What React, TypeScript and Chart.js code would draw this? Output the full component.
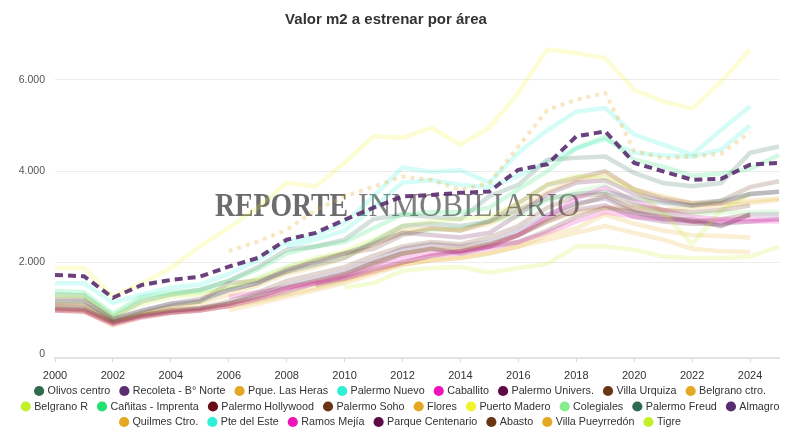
import React, { useEffect, useRef } from "react";
import { Chart, registerables } from "chart.js";

Chart.register(...registerables);

const years = ["2000","2001","2002","2003","2004","2005","2006","2007","2008","2009","2010","2011","2012","2013","2014","2015","2016","2017","2018","2019","2020","2021","2022","2023","2024","2025"];
const yTicks = [0, 2000, 4000, 6000];
const chartTitle = "Valor m2 a estrenar por área";
const watermarkBold = "REPORTE";
const watermarkRegular = "INMOBILIARIO";

const olivosCentro = [1150,1150,760,950,1100,1150,1400,1550,1800,1950,2100,2450,2800,2850,2800,2900,3150,3400,3500,3550,3400,3300,3250,3350,3500,3550];
const recoletaNorte = [1730,1700,1230,1510,1620,1690,1910,2100,2500,2650,2935,3200,3445,3480,3525,3555,4030,4150,4760,4870,4180,3995,3810,3830,4140,4180];
const pqueLasHeras = [null,null,null,null,null,null,2250,2460,2715,3150,3445,3660,3880,3810,3590,3740,4540,5340,5560,5710,4450,4280,4320,4380,4850,null];
const palermoNuevo = [1550,1550,1120,1300,1450,1520,1750,2050,2450,2600,2870,3450,4080,3980,4020,3750,4400,4900,5300,5380,4800,4580,4360,4900,5420,null];
const caballito = [950,930,650,800,900,950,1050,1200,1400,1550,1700,1900,2100,2200,2250,2350,2600,3000,3400,3650,3350,3150,3000,2950,2950,2950];
const palermoUnivers = [1200,1180,760,950,1100,1200,1400,1550,1850,2000,2200,2400,2650,2600,2550,2650,3050,3500,3750,3800,3500,3350,3250,3300,3500,3550];
const villaUrquiza = [1000,980,700,850,950,1000,1150,1350,1600,1750,1900,2150,2350,2450,2400,2550,2800,3200,3450,3500,3250,3150,3100,3150,3250,null];
const belgranoCtro = [1100,1080,720,900,1000,1100,1300,1500,1750,1900,2100,2400,2700,2750,2700,2850,3150,3550,3800,3950,3600,3450,3300,3300,3350,3400];
const belgranoR = [1250,1230,800,1100,1250,1300,1450,1650,1900,2100,2250,2500,2800,2900,2950,3000,3300,3700,3900,3850,3600,3100,2400,3150,3500,null];
const canitasImprenta = [1380,1350,880,1250,1350,1400,1600,1850,2200,2350,2450,2750,3050,3100,3100,3200,3600,4000,4500,4750,4250,4100,3900,3950,4050,4350];
const palermoHollywood = [null,null,null,null,null,null,null,null,null,1500,1650,1850,2000,2150,2250,2350,2450,2700,3000,3200,3100,3000,2900,2950,3050,null];
const palermoSoho = [1100,1080,720,900,1050,1150,1550,1600,1800,2050,2200,2300,2600,2750,2700,2900,3300,3700,3850,4000,3600,3400,3300,3350,3650,3780];
const flores = [null,null,null,null,null,null,960,1100,1250,1400,1550,1750,1950,2050,2100,2200,2350,2600,2750,3050,2850,2700,2600,2580,2550,null];
const puertoMadero = [1880,1880,1255,1555,1880,2350,2760,3200,3745,3665,4180,4760,4730,4950,4580,4950,5715,6660,6585,6475,5780,5525,5365,5960,6660,null];
const colegiales = [1300,1280,850,1200,1300,1350,1450,1650,1900,2050,2200,2450,2650,2700,2750,2900,3000,3350,3550,3700,3300,3100,3050,3100,3100,3120];
const palermoFreud = [1300,1280,800,1150,1300,1400,1600,1900,2280,2350,2500,2950,3050,3000,2950,3450,3700,4250,4290,4320,3960,3740,3670,3740,4400,4540];
const almagro = [1050,1030,700,850,950,1000,1100,1300,1500,1650,1800,2050,2300,2400,2350,2450,2700,3050,3300,3400,3100,2950,2950,2800,3050,3050];
const quilmesCtro = [950,930,620,800,900,950,1050,1150,1300,1450,1600,1800,1950,2050,2100,2200,2350,2500,2650,2800,2650,2500,2300,2250,2230,null];
const pteDelEste = [null,null,null,null,null,null,null,null,2350,2500,2700,3200,3750,3800,3700,3650,3900,4200,4500,4700,4400,4350,4320,4470,5000,null];
const ramosMejia = [null,null,null,null,null,null,1250,1350,1450,1550,1650,1800,2000,2150,2200,2300,2450,2650,2900,3100,3000,2950,2900,2900,2900,2900];
const parqueCentenario = [980,960,680,830,920,980,1100,1250,1450,1600,1750,2000,2200,2300,2200,2350,2600,2900,3150,3250,3000,2900,2850,2850,2900,2950];
const abasto = [950,930,660,820,900,950,1050,1200,1350,1550,1700,1950,2200,2300,2250,2400,2600,2950,3250,3450,3150,3050,2900,2800,3050,null];
const villaPueyrredon = [1000,980,680,850,950,1000,1100,1250,1450,1600,1750,2000,2200,2300,2300,2400,2600,2900,3100,3200,3200,3150,3200,3250,3300,3370];
const tigre = [null,null,null,null,null,null,null,null,null,null,1450,1550,1820,1880,1900,1780,1880,1970,2350,2350,2280,2130,2100,2100,2130,2350];

const C = {
  dkgreen: [46, 107, 79],
  purple: [91, 44, 111],
  gold: [229, 168, 35],
  cyan: [46, 240, 216],
  magenta: [238, 20, 184],
  maroon: [94, 10, 72],
  brown: [107, 52, 19],
  lime: [194, 240, 42],
  green: [36, 224, 112],
  dkred: [106, 10, 20],
  yellow: [238, 245, 42],
  ltgreen: [134, 238, 142],
};

const series: any[] = [
  { name: "Olivos centro", data: olivosCentro, color: C.dkgreen },
  { name: "Recoleta - B° Norte", data: recoletaNorte, color: C.purple, style: "dashed" },
  { name: "Pque. Las Heras", data: pqueLasHeras, color: C.gold, style: "dotted" },
  { name: "Palermo Nuevo", data: palermoNuevo, color: C.cyan },
  { name: "Caballito", data: caballito, color: C.magenta },
  { name: "Palermo Univers.", data: palermoUnivers, color: C.maroon },
  { name: "Villa Urquiza", data: villaUrquiza, color: C.brown },
  { name: "Belgrano ctro.", data: belgranoCtro, color: C.gold },
  { name: "Belgrano R", data: belgranoR, color: C.lime },
  { name: "Cañitas - Imprenta", data: canitasImprenta, color: C.green },
  { name: "Palermo Hollywood", data: palermoHollywood, color: C.dkred },
  { name: "Palermo Soho", data: palermoSoho, color: C.brown },
  { name: "Flores", data: flores, color: C.gold },
  { name: "Puerto Madero", data: puertoMadero, color: C.yellow },
  { name: "Colegiales", data: colegiales, color: C.ltgreen },
  { name: "Palermo Freud", data: palermoFreud, color: C.dkgreen },
  { name: "Almagro", data: almagro, color: C.purple },
  { name: "Quilmes Ctro.", data: quilmesCtro, color: C.gold },
  { name: "Pte del Este", data: pteDelEste, color: C.cyan },
  { name: "Ramos Mejía", data: ramosMejia, color: C.magenta },
  { name: "Parque Centenario", data: parqueCentenario, color: C.maroon },
  { name: "Abasto", data: abasto, color: C.brown },
  { name: "Villa Pueyrredón", data: villaPueyrredon, color: C.gold },
  { name: "Tigre", data: tigre, color: C.lime },
];

const rgba = (c: number[], a: number) => `rgba(${c[0]},${c[1]},${c[2]},${a})`;
const fmt = (v: number) => String(v).replace(/\B(?=(\d{3})+(?!\d))/g, ".");
const SANS = '"Liberation Sans", Arial, sans-serif';
const SERIF = '"Liberation Serif", "DejaVu Serif", serif';

const drawFitted = (ctx: any, text: string, font: string, x: number, y: number, w: number) => {
  ctx.save();
  ctx.font = font;
  const m = ctx.measureText(text).width;
  ctx.translate(x, y);
  ctx.scale(w / m, 1);
  ctx.fillText(text, 0, 0);
  ctx.restore();
};

const decorPlugin = {
  id: "decor",
  beforeDatasetsDraw(chart: any) {
    const ctx = chart.ctx;
    ctx.save();
    ctx.textBaseline = "alphabetic";
    ctx.textAlign = "left";
    ctx.fillStyle = "rgba(100,100,100,0.95)";
    drawFitted(ctx, watermarkBold, `bold 34px ${SERIF}`, 207, 208, 133);
    ctx.fillStyle = "rgba(115,115,115,0.92)";
    drawFitted(ctx, watermarkRegular, `34px ${SERIF}`, 350, 208, 222);
    ctx.restore();
  },
  afterDraw(chart: any) {
    const ctx = chart.ctx;
    ctx.save();
    // title
    ctx.font = `bold 15px ${SANS}`;
    ctx.fillStyle = "#333";
    ctx.textAlign = "center";
    ctx.textBaseline = "alphabetic";
    ctx.fillText(chartTitle, 378, 15.5);
    // legend
    ctx.font = `10.75px ${SANS}`;
    ctx.textAlign = "left";
    ctx.textBaseline = "middle";
    const r = 5.1;
    const gap = 3.3;
    const spacing = 9;
    const maxW = 772;
    const items = series.map((s) => ({
      text: s.name,
      color: s.color,
      w: 2 * r + gap + ctx.measureText(s.name).width,
    }));
    const rows: any[][] = [];
    let cur: any[] = [];
    let curW = 0;
    items.forEach((it) => {
      const add = cur.length ? spacing + it.w : it.w;
      if (cur.length && curW + add > maxW) {
        rows.push(cur);
        cur = [it];
        curW = it.w;
      } else {
        cur.push(it);
        curW += add;
      }
    });
    if (cur.length) rows.push(cur);
    const rowY = [383, 398.5, 414, 429.5];
    const centerX = 392;
    rows.forEach((row, ri) => {
      const total = row.reduce((a, it) => a + it.w, 0) + spacing * (row.length - 1);
      let x = centerX - total / 2;
      const y = rowY[ri];
      row.forEach((it) => {
        ctx.beginPath();
        ctx.fillStyle = rgba(it.color, 1);
        ctx.arc(x + r, y, r, 0, Math.PI * 2);
        ctx.fill();
        ctx.fillStyle = "#333";
        ctx.fillText(it.text, x + 2 * r + gap, y + 0.5);
        x += it.w + spacing;
      });
    });
    ctx.restore();
  },
};

export default function App() {
  const ref = useRef<HTMLCanvasElement>(null);
  useEffect(() => {
    if (!ref.current) return;
    const datasets = series.map((s, i) => {
      const base: any = {
        label: s.name,
        data: s.data,
        borderColor: rgba(s.color, 0.2),
        backgroundColor: rgba(s.color, 0.2),
        borderWidth: 4.5,
        pointRadius: 0,
        pointHoverRadius: 0,
        tension: 0,
        fill: false,
        order: i,
      };
      if (s.style === "dashed") {
        base.borderColor = rgba(s.color, 0.9);
        base.borderWidth = 4;
        base.borderDash = [8, 5];
        base.order = -2;
      } else if (s.style === "dotted") {
        base.borderColor = rgba(s.color, 0.28);
        base.borderWidth = 4;
        base.borderDash = [4, 5];
        base.order = -1;
      }
      return base;
    });
    const chart = new Chart(ref.current, {
      type: "line",
      data: { labels: years, datasets },
      plugins: [decorPlugin],
      options: {
        animation: false,
        responsive: false,
        devicePixelRatio: 1,
        layout: { padding: { top: 26, bottom: 44, left: 0, right: 0 } },
        plugins: {
          legend: { display: false },
          title: { display: false },
          tooltip: { enabled: false },
        },
        scales: {
          x: {
            type: "category",
            offset: false,
            grid: {
              drawOnChartArea: false,
              drawTicks: true,
              tickLength: 4,
              tickColor: (c: any) => (c.index % 2 === 0 ? "#d6d6d6" : "rgba(0,0,0,0)"),
            },
            border: { display: true, color: "#e2e2e2", width: 2 },
            ticks: {
              autoSkip: false,
              maxRotation: 0,
              padding: 7,
              color: "#333",
              font: { size: 11, family: SANS },
              callback: (_v: any, i: number) => (i % 2 === 0 ? years[i] : ""),
            },
            afterFit: (s: any) => {
              s.height = 30;
            },
          },
          y: {
            min: -88,
            max: 7000,
            afterBuildTicks: (s: any) => {
              s.ticks = yTicks.map((v) => ({ value: v }));
            },
            grid: {
              color: (c: any) => (c.tick && c.tick.value === 0 ? "rgba(0,0,0,0)" : "#ececec"),
              drawTicks: false,
            },
            border: { display: false },
            ticks: {
              padding: 10,
              color: "#555",
              font: { size: 10.5, family: SANS },
              callback: (v: any) => fmt(Number(v)),
            },
            afterFit: (s: any) => {
              s.width = 47;
            },
          },
        },
      },
    });
    return () => chart.destroy();
  }, []);
  return (
    <div style={{ width: 778, height: 424 }}>
      <canvas ref={ref} width={778} height={424} style={{ display: "block" }} />
    </div>
  );
}
